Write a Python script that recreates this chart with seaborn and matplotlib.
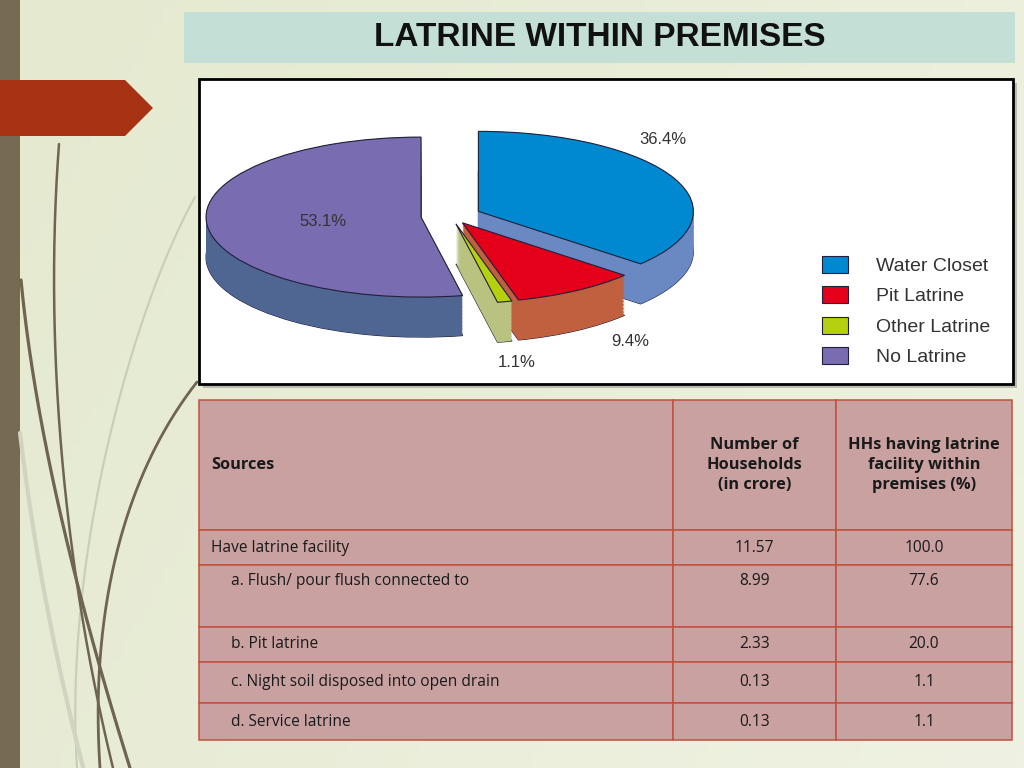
"""Latrine within premises: 3D-style exploded pie plus source table."""

import matplotlib

matplotlib.use("Agg")

import matplotlib.pyplot as plt
import numpy as np
import seaborn as sns
from matplotlib.colors import LinearSegmentedColormap
from matplotlib.patches import Polygon, Rectangle

W, H = 1024, 768

# pie data
SLICE_LABELS = ["Water Closet", "Pit Latrine", "Other Latrine", "No Latrine"]
SLICE_PCT = [36.4, 9.4, 1.1, 53.1]
TOP_COLORS = ["#0089d0", "#e4001b", "#b4d00f", "#7a6cb0"]
SIDE_COLORS = ["#6a88c2", "#c0603e", "#b9c27f", "#4f6592"]
EXPLODE = [0.14, 0.1, 0.1, 0.14]
LABEL_PX = [(663, 140), (630, 341), (517, 362), (323, 222)]

# table data
TABLE_HEADERS = [
    "Sources",
    "Number of\nHouseholds\n(in crore)",
    "HHs having latrine\nfacility within\npremises (%)",
]
SOURCES = [
    "Have latrine facility",
    "a. Flush/ pour flush connected to",
    "b. Pit latrine",
    "c. Night soil disposed into open drain",
    "d. Service latrine",
]
HOUSEHOLDS = [11.57, 8.99, 2.33, 0.13, 0.13]
HH_PCT = [100.0, 77.6, 20.0, 1.1, 1.1]
COL_W = [474, 163, 176]
ROW_H = [130, 35, 62, 35, 41, 37]

sns.set_theme(style="white")
plt.rcParams["font.family"] = ["Liberation Sans", "DejaVu Sans"]


def fbox(x0, y0, x1, y1):
    """Pixel box (top-left origin) to figure rect."""
    return [x0 / W, 1 - y1 / H, (x1 - x0) / W, (y1 - y0) / H]


def bezier(pts, n=200):
    pts = np.asarray(pts, dtype=float)
    t = np.linspace(0, 1, n)[:, None]
    if len(pts) == 3:
        return (1 - t) ** 2 * pts[0] + 2 * (1 - t) * t * pts[1] + t ** 2 * pts[2]
    return ((1 - t) ** 3 * pts[0] + 3 * (1 - t) ** 2 * t * pts[1]
            + 3 * (1 - t) * t ** 2 * pts[2] + t ** 3 * pts[3])


fig = plt.figure(figsize=(W / 100, H / 100), dpi=100)

# ---- slide background and decoration (pixel coordinates) ----
bg = fig.add_axes([0, 0, 1, 1], zorder=-10)
yy, xx = np.mgrid[0:1:100j, 0:1:100j]
cmap = LinearSegmentedColormap.from_list("slide", ["#e4e9cf", "#eff2e2"])
bg.imshow(0.7 * xx + 0.3 * yy, cmap=cmap, extent=(0, W, H, 0), aspect="auto")
bg.set_xlim(0, W)
bg.set_ylim(H, 0)
bg.axis("off")

for pts, col, lw in [
    ([(195, 197), (137, 300), (63, 550), (77, 768)], "#c9cdb9", 1.5),
    ([(20, 433), (40, 600), (83, 767)], "#d0d4c0", 3),
    ([(21, 280), (40, 480), (130, 768)], "#6e6450", 2.3),
    ([(59, 144), (45, 330), (60, 550), (113, 768)], "#6e6450", 1.8),
    ([(197, 382), (120, 480), (90, 620), (100, 768)], "#6e6450", 2.0),
]:
    c = bezier(pts)
    bg.plot(c[:, 0], c[:, 1], color=col, lw=lw, solid_capstyle="round")

bg.add_patch(Rectangle((0, 0), 20, H, color="#766a52", lw=0))
bg.add_patch(Polygon([(0, 80), (125, 80), (153, 108), (125, 136), (0, 136)],
                     closed=True, color="#a83214", lw=0))
bg.add_patch(Rectangle((184, 12), 831, 51, color="#c4dfd5", lw=0))
bg.text(600, 38, "LATRINE WITHIN PREMISES", ha="center", va="center",
        fontsize=24, fontweight="bold", color="#111111")

bg.add_patch(Rectangle((203, 83), 814, 305, color="#8a8a8a", alpha=0.5, lw=0))
bg.add_patch(Rectangle((199, 79), 814, 305, facecolor="white",
                       edgecolor="black", lw=2))

# ---- pie ----
ax = fig.add_axes(fbox(171.5, 112, 730.5, 360))
depth = 0.5
pie_kw = dict(startangle=90, counterclock=False, explode=EXPLODE, radius=1)
ax.pie(SLICE_PCT, center=(0, -depth), colors=SIDE_COLORS,
       wedgeprops=dict(edgecolor="#20203a", linewidth=0.8), **pie_kw)
for d in np.linspace(depth, 0, 30):
    ax.pie(SLICE_PCT, center=(0, -d), colors=SIDE_COLORS,
           wedgeprops=dict(linewidth=0), **pie_kw)
wedges, _ = ax.pie(SLICE_PCT, center=(0, 0), colors=TOP_COLORS,
                   wedgeprops=dict(edgecolor="#20203a", linewidth=0.8), **pie_kw)
ax.set_aspect("auto")
ax.set_xlim(-1.3, 1.3)
ax.set_ylim(-1.8, 1.3)
ax.axis("off")

for pct, (px, py) in zip(SLICE_PCT, LABEL_PX):
    fig.text(px / W, 1 - py / H, f"{pct:.1f}%", ha="center", va="center",
             fontsize=12, color="#333333")

ax.legend(wedges, SLICE_LABELS, loc="center left",
          bbox_to_anchor=(822 / W, 1 - 311 / H), bbox_transform=fig.transFigure,
          frameon=False, fontsize=14, labelcolor="#333333",
          handlelength=1.35, handleheight=0.97, handletextpad=1.45,
          labelspacing=0.57, borderpad=0, borderaxespad=0)

# ---- table ----
ax_tab = fig.add_axes(fbox(199, 400, 1012, 740))
ax_tab.axis("off")
body = [[s, f"{n:.2f}", f"{p:.1f}"] for s, n, p in zip(SOURCES, HOUSEHOLDS, HH_PCT)]
body[1] = [t + "\n\n" for t in body[1]]  # tall row: text sits near the top
tab = ax_tab.table(cellText=body, colLabels=TABLE_HEADERS, cellLoc="center",
                   bbox=[0, 0, 1, 1])
tab.auto_set_font_size(False)
tab.set_fontsize(11.2)
for (r, c), cell in tab.get_celld().items():
    cell.set_width(COL_W[c])
    cell.set_height(ROW_H[r])
    cell.set_facecolor("#c9a1a1")
    cell.set_edgecolor("#c0513d")
    cell.set_linewidth(1.1)
    txt = cell.get_text()
    txt.set_fontfamily(["Open Sans", "DejaVu Sans"])
    txt.set_color("#1a1a1a")
    if r == 0:
        txt.set_fontweight("bold")
        txt.set_fontsize(11.8)
        txt.set_linespacing(1.32)
    elif r == 2:
        txt.set_linespacing(0.95)
    if c == 0:
        txt.set_horizontalalignment("left")
        cell.PAD = 0.025 if r < 2 else 0.068

fig.savefig("out.png", dpi=100)
